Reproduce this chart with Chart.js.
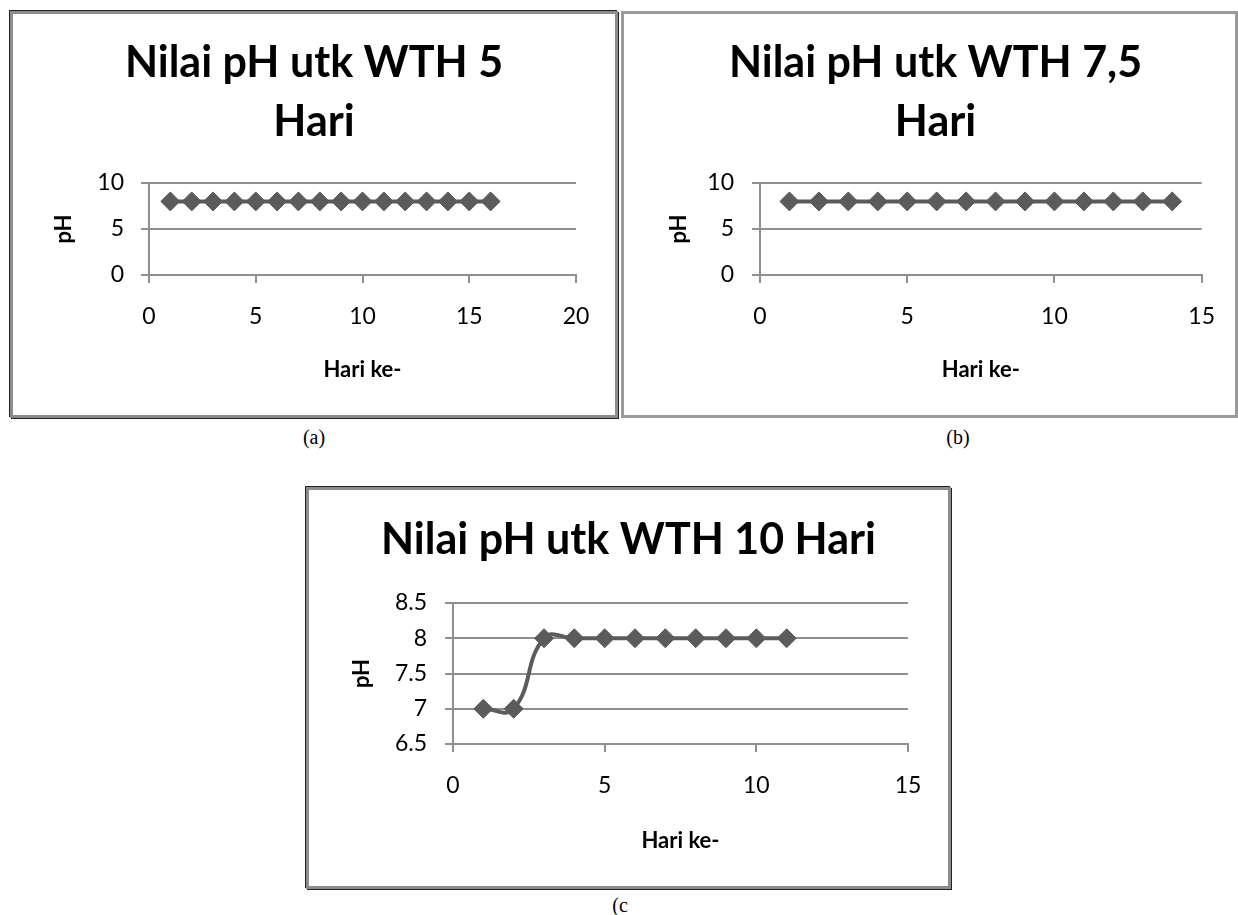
<!DOCTYPE html>
<html>
<head>
<meta charset="utf-8">
<script src="https://cdn.jsdelivr.net/npm/chart.js@4.4.1/dist/chart.umd.min.js"></script>
<style>
body{margin:0;background:#fff;width:1238px;height:915px;position:relative;overflow:hidden;}
.box{position:absolute;box-sizing:border-box;border:3px solid #8c8c8c;background:#fff;}
.box canvas{display:block;}
.cap{position:absolute;font-family:"Liberation Serif","Times New Roman",serif;font-size:20px;line-height:20px;color:#000;transform:translateX(-50%);}
</style>
</head>
<body>
<div class="box" style="left:10px;top:11px;width:608px;height:407px;box-shadow:1px 1px 0 #222,-1px -1px 0 #222;"><canvas id="chartA" width="602" height="401"></canvas></div>
<div class="box" style="left:621px;top:11px;width:617px;height:407px;border-color:#9a9a9a;"><canvas id="chartB" width="611" height="401"></canvas></div>
<div class="box" style="left:306px;top:487px;width:645px;height:402px;box-shadow:1px 1px 0 #222,-1px -1px 0 #222;"><canvas id="chartC" width="639" height="396"></canvas></div>
<div class="cap" style="left:314px;top:427px;">(a)</div>
<div class="cap" style="left:958px;top:427px;">(b)</div>
<div class="cap" style="left:620px;top:895px;">(c</div>
<script>
// pH per hari
const hariA = [1, 2, 3, 4, 5, 6, 7, 8, 9, 10, 11, 12, 13, 14, 15, 16];
const phA   = [8, 8, 8, 8, 8, 8, 8, 8, 8, 8, 8, 8, 8, 8, 8, 8];
const hariB = [1, 2, 3, 4, 5, 6, 7, 8, 9, 10, 11, 12, 13, 14];
const phB   = [8, 8, 8, 8, 8, 8, 8, 8, 8, 8, 8, 8, 8, 8];
const hariC = [1, 2, 3, 4, 5, 6, 7, 8, 9, 10, 11];
const phC   = [7, 7, 8, 8, 8, 8, 8, 8, 8, 8, 8];

// tick labels
const xTicksA = [0, 5, 10, 15, 20];
const xTicksB = [0, 5, 10, 15];
const xTicksC = [0, 5, 10, 15];
const yTicksA = [0, 5, 10];
const yTicksB = [0, 5, 10];
const yTicksC = [6.5, 7, 7.5, 8, 8.5];

const titleA = ["Nilai pH utk WTH 5", "Hari"];
const titleB = ["Nilai pH utk WTH 7,5", "Hari"];
const titleC = ["Nilai pH utk WTH 10 Hari"];
const xLabel = "Hari ke-";
const yLabel = "pH";

const markColor = "#5b5b5b",
	gridColor = "#8f8f8f",
	fontFam = "Lato, 'Open Sans', sans-serif";

// title centred on the whole box, not only on the padded layout
const titleShift = {
	id: "titleShift",
	afterLayout(chart, args, opts){
		let t = chart.titleBlock;
		if(!t) return;
		t.left = opts.offset || 0;
		t.right = chart.width + (opts.offset || 0);
		t.width = chart.width;
	}
};

const makeChart = function(id, xs, ys, xt, yt, title, g){
	let pts = xs.map((x, i) => ({x: x, y: ys[i]}));
	return new Chart(document.getElementById(id), {
		type: "scatter",
		data: {
			datasets: [{
				data: pts,
				showLine: true,
				borderColor: markColor,
				backgroundColor: markColor,
				borderWidth: 4,
				pointStyle: "rectRot",
				pointRadius: 9.5,
				pointBorderWidth: 1,
				tension: g.tension || 0,
				clip: false
			}]
		},
		plugins: [titleShift],
		options: {
			responsive: false,
			animation: false,
			events: [],
			layout: {padding: {left: 0, top: 0, right: g.padRight, bottom: 0}},
			plugins: {
				legend: {display: false},
				tooltip: {enabled: false},
				titleShift: {offset: g.titleOff || 0},
				title: {
					display: true,
					text: title,
					color: "#000",
					font: {family: fontFam, size: 43, weight: "bold", lineHeight: "59px"},
					padding: {top: g.titleTop, bottom: g.titleBottom}
				}
			},
			scales: {
				x: {
					type: "linear",
					min: xt[0],
					max: xt[xt.length - 1],
					afterFit: s => { s.height = g.xHeight; },
					afterBuildTicks: s => { s.ticks = xt.map(v => ({value: v})); },
					ticks: {color: "#000", font: {family: fontFam, size: 23}, padding: 20, maxRotation: 0, callback: v => String(v)},
					grid: {display: true, drawOnChartArea: false, drawTicks: true, tickLength: 8, color: gridColor, lineWidth: 2},
					border: {color: gridColor, width: 2},
					title: {display: true, text: xLabel, color: "#000", font: {family: fontFam, size: 22, weight: "bold"}, padding: {top: 0, bottom: 32}}
				},
				y: {
					type: "linear",
					min: yt[0],
					max: yt[yt.length - 1],
					afterFit: s => { s.width = g.yWidth; },
					afterBuildTicks: s => { s.ticks = yt.map(v => ({value: v})); },
					ticks: {color: "#000", font: {family: fontFam, size: 23}, padding: g.yTickPad, callback: v => String(v)},
					grid: {display: true, drawTicks: true, tickLength: 8, color: gridColor, lineWidth: 2},
					border: {color: gridColor, width: 2},
					title: {display: true, text: yLabel, color: "#000", font: {family: fontFam, size: 22, weight: "bold"}, padding: {top: g.yTitlePad, bottom: 0}}
				}
			}
		}
	});
};

makeChart("chartA", hariA, phA, xTicksA, yTicksA, titleA,
	{padRight: 39, yWidth: 136, xHeight: 140, titleTop: 19.5, titleBottom: 31.5, yTickPad: 17, yTitlePad: 38});
makeChart("chartB", hariB, phB, xTicksB, yTicksB, titleB,
	{padRight: 27, yWidth: 136, xHeight: 140, titleTop: 19.5, titleBottom: 31.5, yTickPad: 18, yTitlePad: 42, titleOff: 6});
makeChart("chartC", hariC, phC, xTicksC, yTicksC, titleC,
	{padRight: 40, yWidth: 144, xHeight: 142, titleTop: 20.5, titleBottom: 33.5, yTickPad: 18, yTitlePad: 40, tension: 0.45});
</script>
</body>
</html>
